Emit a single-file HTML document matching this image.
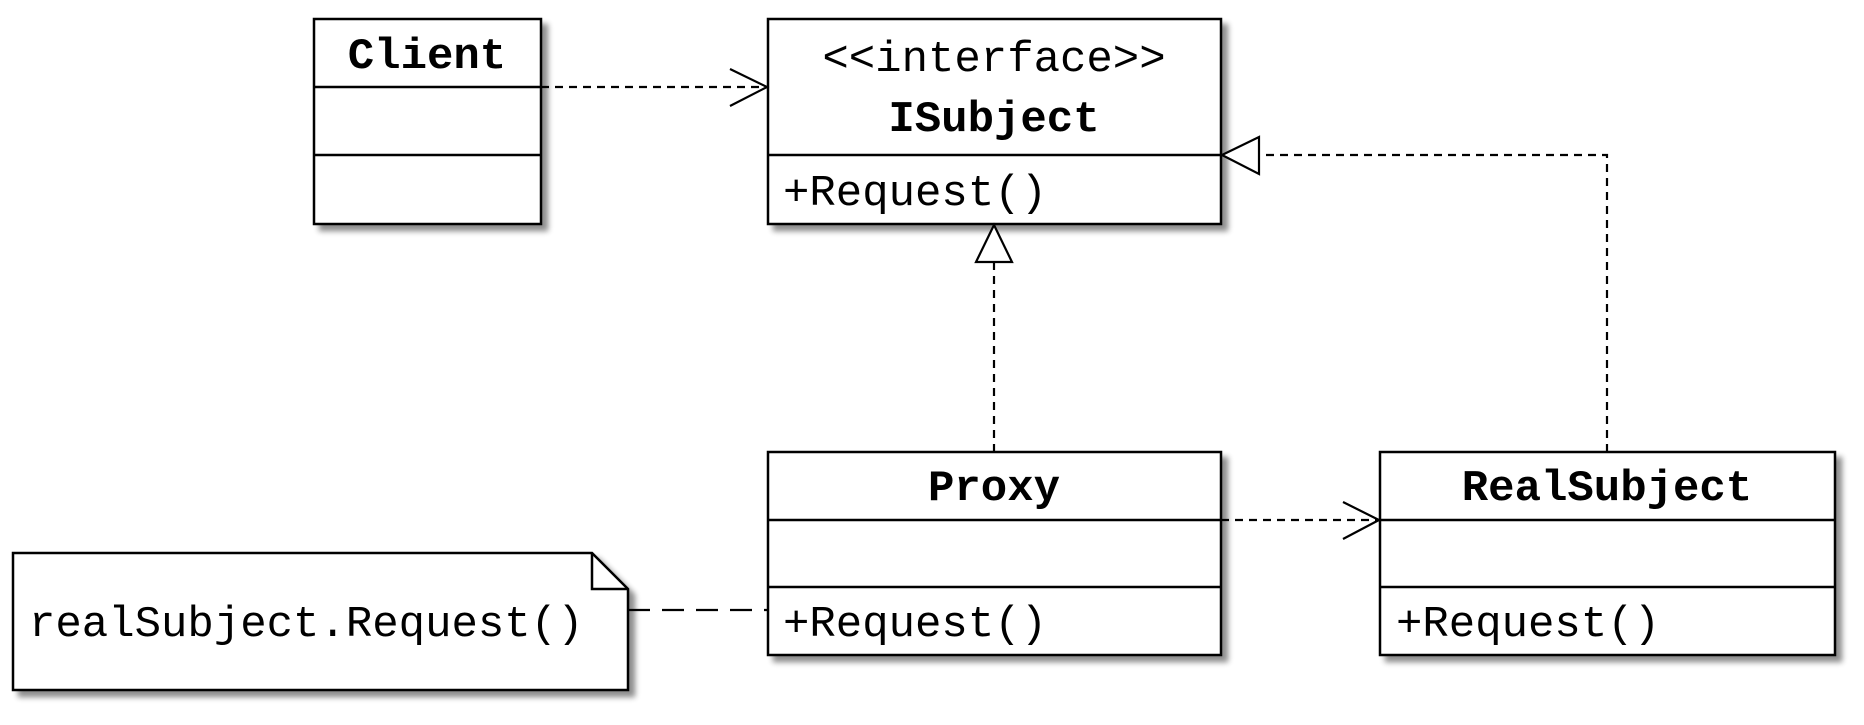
<!DOCTYPE html>
<html><head><meta charset="utf-8"><style>
html,body{margin:0;padding:0;background:#fff;}
svg text{font-family:"Liberation Mono",monospace;font-size:44px;fill:#000;}
.b{font-weight:bold;}
</style></head><body>
<svg width="1864" height="720" viewBox="0 0 1864 720" xmlns="http://www.w3.org/2000/svg">
<defs>
<filter id="sh" x="-10%" y="-10%" width="130%" height="130%">
<feGaussianBlur in="SourceAlpha" stdDeviation="3"/>
<feOffset dx="6" dy="6"/>
<feComponentTransfer><feFuncA type="linear" slope="0.45"/></feComponentTransfer>
<feMerge><feMergeNode/><feMergeNode in="SourceGraphic"/></feMerge>
</filter>
</defs>
<g fill="#fff" stroke="#000" stroke-width="2.5">
<rect x="314" y="19" width="227" height="205" filter="url(#sh)"/>
<rect x="768" y="19" width="453" height="205" filter="url(#sh)"/>
<rect x="768" y="452" width="453" height="203" filter="url(#sh)"/>
<rect x="1380" y="452" width="455" height="203" filter="url(#sh)"/>
<path d="M13 553 L592 553 L628 589 L628 690 L13 690 Z" filter="url(#sh)"/>
<path d="M592 553 L592 589 L628 589" fill="none"/>
</g>
<g stroke="#000" stroke-width="2.5">
<line x1="314" y1="87" x2="541" y2="87"/>
<line x1="314" y1="155" x2="541" y2="155"/>
<line x1="768" y1="155" x2="1221" y2="155"/>
<line x1="768" y1="520" x2="1221" y2="520"/>
<line x1="768" y1="587" x2="1221" y2="587"/>
<line x1="1380" y1="520" x2="1835" y2="520"/>
<line x1="1380" y1="587" x2="1835" y2="587"/>
</g>
<g stroke="#000" stroke-width="2.2" fill="none">
<line x1="541" y1="87" x2="766" y2="87" stroke-dasharray="8,6"/>
<polyline points="730,69 767,87 730,106"/>
<line x1="1221" y1="520" x2="1378" y2="520" stroke-dasharray="8,6"/>
<polyline points="1343,502 1379,520 1343,539"/>
<line x1="994" y1="452" x2="994" y2="262" stroke-dasharray="8,6"/>
<polygon points="994,225 976,262 1012,262" fill="#fff"/>
<polyline points="1607,452 1607,155 1259,155" stroke-dasharray="8,6"/>
<polygon points="1222,155 1259,137 1259,174" fill="#fff"/>
<line x1="628" y1="610" x2="768" y2="610" stroke-dasharray="22,12"/>
</g>
<text x="427" y="68" class="b" text-anchor="middle">Client</text>
<text x="994" y="71" text-anchor="middle">&lt;&lt;interface&gt;&gt;</text>
<text x="994" y="131" class="b" text-anchor="middle">ISubject</text>
<text x="783" y="205">+Request()</text>
<text x="994" y="500" class="b" text-anchor="middle">Proxy</text>
<text x="783" y="636">+Request()</text>
<text x="1607" y="500" class="b" text-anchor="middle">RealSubject</text>
<text x="1396" y="636">+Request()</text>
<text x="29" y="636">realSubject.Request()</text>
</svg>
</body></html>
